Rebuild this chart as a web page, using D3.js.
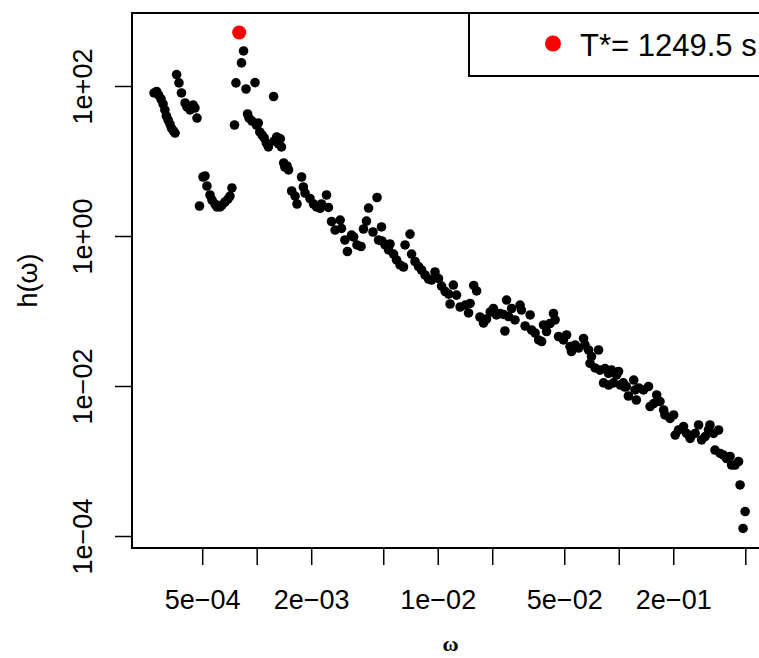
<!DOCTYPE html>
<html>
<head>
<meta charset="utf-8">
<script src="https://cdn.jsdelivr.net/npm/d3@7"></script>
<style>
  body { margin: 0; background: #fff; }
  svg { display: block; }
</style>
</head>
<body>
<div id="chart"></div>
<script>
// frequencies (omega) and spectral density values h(omega)
const omega = [
  2.71e-4, 2.80e-4, 2.87e-4, 2.96e-4, 3.04e-4, 3.11e-4, 3.17e-4, 3.24e-4, 3.32e-4, 3.38e-4, 3.47e-4, 3.54e-4,
  3.61e-4, 3.72e-4, 3.84e-4, 4.02e-4, 4.12e-4, 4.28e-4, 4.45e-4, 4.56e-4, 4.68e-4,
  4.83e-4, 5.05e-4, 5.18e-4, 5.31e-4, 5.52e-4, 5.66e-4, 5.88e-4, 6.03e-4, 6.27e-4, 6.43e-4, 6.68e-4, 6.94e-4, 7.12e-4, 7.30e-4,
  7.54e-4, 7.68e-4, 8.24e-4, 8.46e-4, 8.73e-4, 8.90e-4, 9.07e-4, 9.42e-4, 9.79e-4, 9.97e-4,
  1.02e-3, 1.04e-3, 1.07e-3, 1.10e-3, 1.13e-3, 1.16e-3, 1.24e-3, 1.25e-3, 1.29e-3, 1.32e-3, 1.35e-3, 1.37e-3,
  1.41e-3, 1.43e-3, 1.47e-3, 1.50e-3, 1.56e-3, 1.63e-3, 1.67e-3, 1.77e-3, 1.81e-3, 1.85e-3, 1.97e-3,
  2.06e-3, 2.14e-3, 2.24e-3, 2.28e-3, 2.43e-3, 2.49e-3, 2.59e-3, 2.71e-3, 2.89e-3, 2.94e-3, 3.07e-3, 3.17e-3,
  3.34e-3, 3.43e-3, 3.58e-3, 3.77e-3, 3.89e-3, 4.04e-3, 4.15e-3, 4.39e-3, 4.62e-3, 4.71e-3, 4.89e-3, 4.92e-3,
  5.12e-3, 5.35e-3, 5.45e-3, 5.70e-3, 5.92e-3, 6.19e-3, 6.47e-3, 6.60e-3, 7.03e-3, 7.17e-3, 7.49e-3, 7.83e-3,
  8.14e-3, 8.51e-3, 8.90e-3, 9.24e-3, 9.66e-3, 1.01e-2, 1.05e-2, 1.10e-2, 1.15e-2, 1.17e-2, 1.22e-2, 1.27e-2,
  1.33e-2, 1.42e-2, 1.48e-2, 1.51e-2, 1.58e-2, 1.64e-2, 1.71e-2, 1.79e-2, 1.86e-2, 1.95e-2, 2.03e-2, 2.11e-2,
  2.21e-2, 2.31e-2, 2.35e-2, 2.40e-2, 2.46e-2, 2.56e-2, 2.67e-2, 2.85e-2, 2.90e-2, 3.04e-2, 3.24e-2, 3.30e-2,
  3.45e-2, 3.61e-2, 3.75e-2, 3.84e-2, 3.99e-2, 4.17e-2, 4.36e-2, 4.45e-2, 4.65e-2, 4.95e-2, 5.15e-2, 5.38e-2,
  5.48e-2, 5.74e-2, 6.00e-2, 6.39e-2, 6.51e-2, 6.81e-2, 7.07e-2, 6.94e-2, 7.40e-2, 7.73e-2, 7.88e-2, 8.24e-2,
  8.40e-2, 8.78e-2, 8.80e-2, 9.13e-2, 9.36e-2, 9.72e-2, 9.97e-2, 1.02e-1, 1.06e-1, 1.08e-1, 1.10e-1, 1.13e-1,
  1.21e-1, 1.23e-1, 1.25e-1, 1.29e-1, 1.37e-1, 1.46e-1, 1.49e-1, 1.56e-1, 1.62e-1, 1.69e-1, 1.77e-1, 1.80e-1,
  1.92e-1, 2.01e-1, 2.05e-1, 2.14e-1, 2.28e-1, 2.37e-1, 2.48e-1, 2.64e-1, 2.76e-1, 2.87e-1, 3.00e-1, 3.13e-1,
  3.19e-1, 3.34e-1, 3.40e-1, 3.56e-1, 3.63e-1, 3.79e-1, 3.94e-1, 4.12e-1, 4.20e-1, 4.39e-1, 4.59e-1, 4.68e-1,
  4.99e-1, 4.86e-1
];
const h = [
  80.7, 84.5, 75.9, 67.1, 57.5, 47.9, 39.8, 35.2, 31.1, 27.5, 25.1, 23.6,
  142, 110, 80.7, 59.3, 52.5, 47.9, 55.8, 50.9, 37.4,
  2.51, 6.12, 6.31, 4.64, 3.52, 3.02, 2.67, 2.44, 2.44, 2.59, 2.84, 3.11, 3.41, 4.37,
  30.2, 110, 203, 293, 91.2, 42.3, 37.4, 34.1, 111, 30.2,
  32.1, 24.4, 22.2, 20.3, 17.4, 15.4, 72.4, 18.5, 20.9, 16.9, 19.7, 15.4,
  9.40, 8.32, 8.58, 7.59, 3.98, 3.41, 2.67, 6.12, 4.50, 3.74, 3.16,
  2.67, 2.44, 2.33, 2.67, 3.52, 2.40, 1.56, 1.20, 1.63, 1.26, 0.884, 0.621,
  1.03, 0.970, 0.759, 0.724, 1.24, 1.58, 2.36, 1.13, 3.26, 0.884, 1.32, 0.858,
  0.759, 0.651, 0.782, 0.575, 0.479, 0.411, 0.386, 0.759, 1.06, 0.575, 0.457, 0.392,
  0.352, 0.302, 0.267, 0.259, 0.331, 0.271, 0.215, 0.182, 0.168, 0.124, 0.222, 0.163,
  0.113, 0.120, 0.0941, 0.126, 0.219, 0.185, 0.0832, 0.0692, 0.0782, 0.0970, 0.108, 0.0885,
  0.0926, 0.0900, 0.0541, 0.140, 0.0845, 0.108, 0.0759, 0.120, 0.103, 0.0631, 0.0885, 0.0558,
  0.0509, 0.0411, 0.0392, 0.0651, 0.0533, 0.0681, 0.0926, 0.0759, 0.0457, 0.0411, 0.0479, 0.0336,
  0.0288, 0.0352, 0.0321, 0.0430, 0.0352, 0.0302, 0.0247, 0.0200, 0.0174, 0.0302, 0.0163, 0.0110,
  0.0171, 0.0147, 0.0103, 0.0163, 0.0110, 0.0140, 0.0156, 0.0103, 0.0110, 0.00970, 0.00985, 0.00736,
  0.0120, 0.00885, 0.00651, 0.00940, 0.00885, 0.00985, 0.00533, 0.00584, 0.00759, 0.00621, 0.00479, 0.00411,
  0.00369, 0.00411, 0.00222, 0.00259, 0.00288, 0.00233, 0.00200, 0.00233, 0.00302, 0.00191, 0.00212, 0.00259,
  0.00302, 0.00233, 0.00140, 0.00259, 0.00126, 0.00120, 0.00108, 0.00115, 0.000885, 0.000885, 0.000985, 0.000479,
  0.000212, 0.000126
];

// the highlighted peak (T* = 1/omega)
const peakOmega = [8.003e-4];
const peakH = [517];
const legendLabels = ["T*= 1249.5 s"];

// axis ticks
const xTicks = [5e-4, 1e-3, 2e-3, 5e-3, 1e-2, 2e-2, 5e-2, 1e-1, 2e-1, 5e-1];
const xTickLabels = ["5e\u221204", "", "2e\u221203", "", "1e\u221202", "", "5e\u221202", "", "2e\u221201", ""];
const yTicks = [1e-4, 1e-2, 1, 1e2];
const yTickLabels = ["1e\u221204", "1e\u221202", "1e+00", "1e+02"];

const width = 759, height = 658;
const plotL = 132, plotR = 769, plotT = 13, plotB = 548;
const font = "'Liberation Sans', Arial, sans-serif";

const svg = d3.select("#chart").append("svg")
    .attr("width", width)
    .attr("height", height);

const x = d3.scaleLog().domain([2.047e-4, 0.676]).range([plotL, plotR]);
const y = d3.scaleLog().domain([6.92e-5, 940]).range([plotB, plotT]);

// x axis
const xAxis = svg.append("g")
    .attr("transform", `translate(0,${plotB})`)
    .call(d3.axisBottom(x).tickValues(xTicks).tickFormat((d, i) => xTickLabels[i]).tickSize(17).tickSizeOuter(0));
xAxis.select(".domain").remove();
xAxis.selectAll("line").attr("stroke", "#000").attr("stroke-width", 1.5);
xAxis.selectAll("text")
    .attr("y", 61).attr("dy", null)
    .attr("fill", "#000")
    .style("font-family", font).style("font-size", "27px");

// y axis
const yAxis = svg.append("g")
    .attr("transform", `translate(${plotL},0)`)
    .call(d3.axisLeft(y).tickValues(yTicks).tickFormat((d, i) => yTickLabels[i]).tickSize(17).tickSizeOuter(0));
yAxis.select(".domain").remove();
yAxis.selectAll("line").attr("stroke", "#000").attr("stroke-width", 1.5);
yAxis.selectAll("text")
    .attr("x", null).attr("dy", null)
    .attr("transform", "translate(-40,0) rotate(-90)")
    .attr("text-anchor", "middle")
    .attr("fill", "#000")
    .style("font-family", font).style("font-size", "27px");

// axis titles
svg.append("text")
    .attr("transform", `translate(37,${(plotT + plotB) / 2}) rotate(-90)`)
    .attr("text-anchor", "middle")
    .style("font-family", font).style("font-size", "27px")
    .text("h(\u03c9)");

svg.append("text")
    .attr("x", (plotL + plotR) / 2)
    .attr("y", 651)
    .attr("text-anchor", "middle")
    .style("font-family", "'Liberation Serif', 'DejaVu Serif', serif")
    .style("font-weight", "bold")
    .style("font-size", "22px")
    .text("\u03c9");

// points
svg.append("g")
    .selectAll("circle")
    .data(omega.map((w, i) => ({ w: w, v: h[i] })))
    .join("circle")
    .attr("cx", d => x(d.w))
    .attr("cy", d => y(d.v))
    .attr("r", 4.8)
    .attr("fill", "#000");

svg.append("g")
    .selectAll("circle")
    .data(peakOmega.map((w, i) => ({ w: w, v: peakH[i] })))
    .join("circle")
    .attr("cx", d => x(d.w))
    .attr("cy", d => y(d.v))
    .attr("r", 7)
    .attr("fill", "#ff0000");

// plot box
svg.append("rect")
    .attr("x", plotL).attr("y", plotT)
    .attr("width", plotR - plotL).attr("height", plotB - plotT)
    .attr("fill", "none")
    .attr("stroke", "#000")
    .attr("stroke-width", 2);

// legend (top right, clipped by the page edge like the original)
const legend = svg.append("g");
legend.append("rect")
    .attr("x", 469).attr("y", plotT)
    .attr("width", plotR - 469).attr("height", 63)
    .attr("fill", "#fff")
    .attr("stroke", "#000")
    .attr("stroke-width", 2);
legend.selectAll("circle")
    .data(legendLabels)
    .join("circle")
    .attr("cx", 553).attr("cy", 43.5)
    .attr("r", 8)
    .attr("fill", "#ff0000");
legend.selectAll("text")
    .data(legendLabels)
    .join("text")
    .attr("x", 580).attr("y", 55.5)
    .style("font-family", font).style("font-size", "31px")
    .text(d => d);
</script>
</body>
</html>
